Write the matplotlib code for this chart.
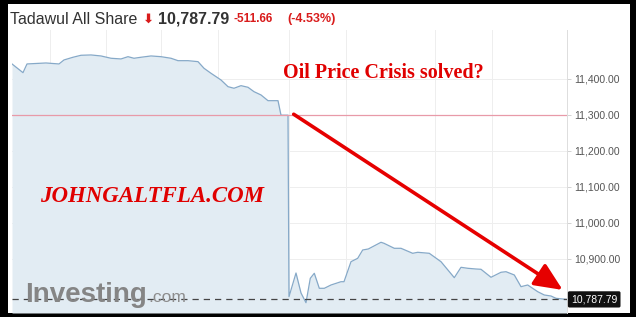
import numpy as np
import matplotlib
matplotlib.use('Agg')
import matplotlib.pyplot as plt
from matplotlib.patches import Rectangle
import matplotlib.transforms as mtransforms

# Tadawul All Share
# t = position along the time axis, v = index level
prev_close = 11299.45
last_price = 10787.79
change = -511.66
change_pct = -4.53

# previous session
t_prev = [0, 11, 15, 24, 34, 47, 52, 61, 69, 79, 89, 99, 109, 116, 122, 129,
          139, 149, 159, 166, 176, 186, 192, 199, 209, 216, 222, 229, 236,
          242, 249, 256, 266, 269, 276]
v_prev = [11441.7, 11417.5, 11441.7, 11443.0, 11444.4, 11441.7, 11452.8,
          11460.3, 11465.8, 11466.7, 11463.9, 11457.5, 11455.6, 11461.9,
          11457.5, 11460.3, 11463.9, 11461.9, 11457.5, 11450.8, 11450.8,
          11448.1, 11429.7, 11415.8, 11397.2, 11378.6, 11374.2, 11381.4,
          11376.9, 11364.7, 11355.6, 11339.7, 11339.7, 11299.45, 11299.45]
# today
t_today = [277, 284, 289, 294, 298.3, 302.3, 307.3, 312.3, 319, 329, 332,
           339, 345.7, 350.7, 356.3, 369, 372, 382.3, 389, 400.7, 405.7,
           417.3, 429, 442.3, 449, 455.7, 464, 469, 479, 489, 494, 502.3,
           509, 515.7, 525.7, 532.3, 539, 544, 555]
v_today = [10795.3, 10861.1, 10805.6, 10778.6, 10846.4, 10860.3, 10818.6,
           10818.6, 10827.8, 10836.9, 10836.9, 10892.5, 10901.9, 10925.0,
           10927.8, 10946.4, 10943.6, 10929.7, 10929.7, 10915.8, 10918.6,
           10915.8, 10892.5, 10848.1, 10876.9, 10874.2, 10872.2, 10871.4,
           10849.2, 10863.1, 10864.7, 10855.6, 10823.1, 10827.8, 10809.2,
           10800.0, 10797.2, 10790.8, 10787.79]

yticks = [10900, 11000, 11100, 11200, 11300, 11400]
xgrid = [38, 94, 149, 206, 277, 334, 423, 480]


def main():
    W, H = 636, 317
    fig = plt.figure(figsize=(W / 100, H / 100), dpi=100)
    fig.patch.set_facecolor('black')
    # white panel inside the black frame
    fig.add_artist(Rectangle((8 / W, 4 / H), 622 / W, 309 / H,
                             transform=fig.transFigure, facecolor='white',
                             edgecolor='none', zorder=-10))

    ax = fig.add_axes([12 / W, 4 / H, 555 / W, 283 / H])
    ax.set_facecolor('none')

    t = np.array(t_prev + t_today)
    v = np.array(v_prev + v_today)
    ymin, ymax = 10750, 11536
    ax.fill_between(t, v, ymin, color='#e2ecf3', lw=0, zorder=1)
    ax.plot(t, v, color='#86a9c8', lw=0.9, zorder=2)

    # grid
    for y in yticks:
        ax.axhline(y, color='#eeeeee', lw=0.7, zorder=0.5)
    for x in xgrid:
        ax.axvline(x, color='#eeeeee', lw=0.7, zorder=0.5)

    # previous close and last price
    ax.axhline(prev_close, color='#e89aa8', lw=0.9, zorder=3)
    ax.axhline(last_price, color='#444444', lw=0.9, ls=(0, (5, 4)), zorder=3)

    ax.set_xlim(0, 555)
    ax.set_ylim(ymin, ymax)
    ax.yaxis.tick_right()
    ax.set_yticks(yticks)
    ax.set_yticklabels(['{:,.2f}'.format(y) for y in yticks],
                       fontfamily='Liberation Sans', fontsize=7.5, color='#555555')
    ax.tick_params(axis='y', length=3, width=0.6, color='#cccccc', pad=2)
    ax.set_xticks([])
    for s in ['top', 'left', 'bottom']:
        ax.spines[s].set_visible(False)
    ax.spines['right'].set_color('#dddddd')
    ax.spines['right'].set_linewidth(0.7)

    # last price tag
    trans = mtransforms.blended_transform_factory(ax.transAxes, ax.transData)
    ax.text(1.0 + 4 / 555, last_price, '{:,.2f}'.format(last_price),
            transform=trans, ha='left', va='center', color='white',
            fontfamily='Liberation Sans', fontsize=7.5, zorder=5,
            bbox=dict(boxstyle='round,pad=0.3,rounding_size=0.15',
                      fc='#111111', ec='none'), clip_on=False)

    # red arrow
    ax.annotate('', xy=(550.7, 10814), xytext=(281.7, 11302),
                arrowprops=dict(arrowstyle='-|>,head_length=0.85,head_width=0.38',
                                mutation_scale=20, lw=2.6, color='#e60000',
                                shrinkA=0, shrinkB=0), zorder=6)

    # header
    ty = 1 - 19 / H
    fig.text(10 / W, ty, 'Tadawul All Share', fontfamily='Liberation Sans',
             fontsize=11.5, color='#333333', va='center')
    fig.text(142 / W, ty, '\u2b07', fontfamily='DejaVu Sans', fontsize=9.5,
             fontweight='bold', color='#d91c1c', va='center')
    fig.text(158 / W, ty, '{:,.2f}'.format(last_price), fontfamily='Liberation Sans',
             fontsize=11.5, fontweight='bold', color='#333333', va='center')
    fig.text(234 / W, ty, '{:.2f}'.format(change), fontfamily='Liberation Sans',
             fontsize=8.5, fontweight='bold', color='#d91c1c', va='center')
    fig.text(287 / W, ty, '({:.2f}%)'.format(change_pct), fontfamily='Liberation Sans',
             fontsize=9, fontweight='bold', color='#d91c1c', va='center')

    # overlaid captions
    fig.text(283 / W, 1 - 73 / H, 'Oil Price Crisis solved?', fontfamily='Liberation Serif',
             fontsize=14.5, fontweight='bold', color='#e00000', va='center')
    fig.text(40 / W, 1 - 197 / H, 'JOHNGALTFLA.COM', fontfamily='Liberation Serif',
             fontsize=16.5, fontweight='bold', fontstyle='italic', color='#e00000',
             va='center')

    # investing.com logo
    fig.text(25 / W, 1 - 302 / H, 'Investing', fontfamily='Liberation Sans',
             fontsize=20, fontweight='bold', color='#858585', va='baseline', zorder=10)
    fig.text(148 / W, 1 - 302 / H, '.com', fontfamily='Liberation Sans',
             fontsize=12.5, color='#8c8c8c', va='baseline', zorder=10)

    fig.savefig('out.png', dpi=100, facecolor=fig.get_facecolor())


if __name__ == "__main__":
    main()
